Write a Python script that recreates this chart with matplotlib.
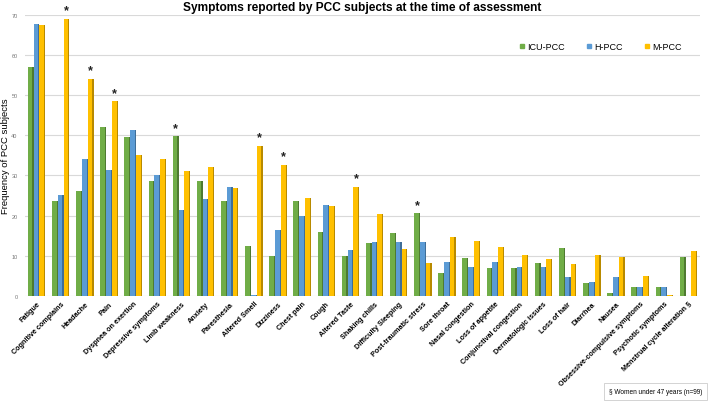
import matplotlib
matplotlib.use("Agg")
import matplotlib.pyplot as plt
from matplotlib.lines import Line2D
import numpy as np

plt.rcParams['font.family'] = ['Liberation Sans', 'DejaVu Sans']

categories = ["Fatigue", "Cognitive complains", "Headache", "Pain", "Dyspnea on exertion",
              "Depressive symptoms", "Limb weakness", "Anxiety", "Paresthesia", "Altered Smell",
              "Dizziness", "Chest pain", "Cough", "Altered Taste", "Shaking chills",
              "Difficulty Sleeping", "Post-traumatic stress", "Sore throat", "Nasal congestion",
              "Loss of appetite", "Conjunctival congestion", "Dermatologic issues", "Loss of hair",
              "Diarrhea", "Nausea", "Obsessive-compulsive symptoms", "Psychotic symptoms",
              "Menstrual cycle alteration §"]
icu = [57, 23.5, 26, 42, 39.6, 28.5, 39.7, 28.5, 23.5, 12.4, 10, 23.5, 16, 10, 13.1,
       15.6, 20.6, 5.8, 9.5, 7, 7, 8.2, 12, 3.3, 0.8, 2.2, 2.2, 9.7]
hosp = [67.7, 25, 34, 31.4, 41.4, 30.2, 21.4, 24, 27.2, 0.2, 16.4, 20, 22.6, 11.4, 13.5,
        13.5, 13.5, 8.4, 7.2, 8.4, 7.2, 7.2, 4.7, 3.5, 4.7, 2.2, 2.2, 0]
mild = [67.3, 69, 54, 48.4, 35, 34, 31, 32, 26.8, 37.4, 32.6, 24.3, 22.3, 27.2, 20.4,
        11.8, 8.3, 14.6, 13.6, 12.2, 10.2, 9.3, 7.9, 10.2, 9.7, 5, 0.3, 11.1]
# significance marks: (category index, series index)
stars = [(1, 2), (2, 2), (3, 2), (6, 0), (9, 2), (10, 2), (13, 2), (16, 0)]
series_names = ["ICU-PCC", "H-PCC", "M-PCC"]

colors = ["#70AD47", "#5B9BD5", "#FFC000"]
side_colors = ["#4E7A31", "#3F6E98", "#B88A00"]

fig = plt.figure(figsize=(7.09, 4.06), dpi=100)
ax = fig.add_axes([0.0346, 0.2685, 0.9534, 0.6933])

n = len(categories)
x = np.arange(n)
w = 0.24
side = 0.05
data = [icu, hosp, mild]
for i, (vals, c, sc) in enumerate(zip(data, colors, side_colors)):
    pos = x + (i - 1) * w
    ax.bar(pos - side / 2, vals, width=w - side, color=c, zorder=3, linewidth=0)
    ax.bar(pos + (w - side) / 2, vals, width=side, color=sc, zorder=3, linewidth=0)

for ci, si in stars:
    ax.text(x[ci] + (si - 1) * w, data[si][ci] + 0.6, "*", ha="center", va="bottom",
            fontsize=9, fontweight="bold", color="#222222", clip_on=False)

ax.set_xlim(-0.5, n - 0.5)
ax.set_ylim(0, 70)
ax.set_yticks(np.arange(0, 71, 10))
ax.tick_params(axis='y', labelsize=4, colors="#777777", length=0, pad=5)
ax.set_xticks(x)
ax.set_xticklabels(categories, rotation=45, ha="right", rotation_mode="anchor",
                   fontsize=5.2, fontweight="bold")
ax.tick_params(axis='x', length=0, pad=3)
ax.grid(axis='y', color="#d9d9d9", linewidth=0.8, zorder=0)
for s in ax.spines.values():
    s.set_visible(False)
ax.set_ylabel("Frequency of PCC subjects", fontsize=6.8)
ax.yaxis.set_label_coords(-0.022, 0.5)

ax.set_title("Symptoms reported by PCC subjects at the time of assessment",
             fontsize=8.6, fontweight="bold", pad=3)

handles = [Line2D([0], [0], marker='s', color='none', markerfacecolor=c,
                  markeredgecolor=c, markersize=3.5) for c in colors]
ax.legend(handles, series_names, loc="upper right", bbox_to_anchor=(0.985, 0.93),
          ncol=3, frameon=False, fontsize=6.5, handlelength=0.6, handletextpad=0.3,
          columnspacing=2.4)

fig.text(0.9245, 0.033, "§ Women under 47 years (n=99)", fontsize=4.7,
         ha="center", va="center",
         bbox=dict(boxstyle="square,pad=0.8", facecolor="white", edgecolor="#cccccc",
                   linewidth=0.6))

fig.savefig("out.png", dpi=100)
